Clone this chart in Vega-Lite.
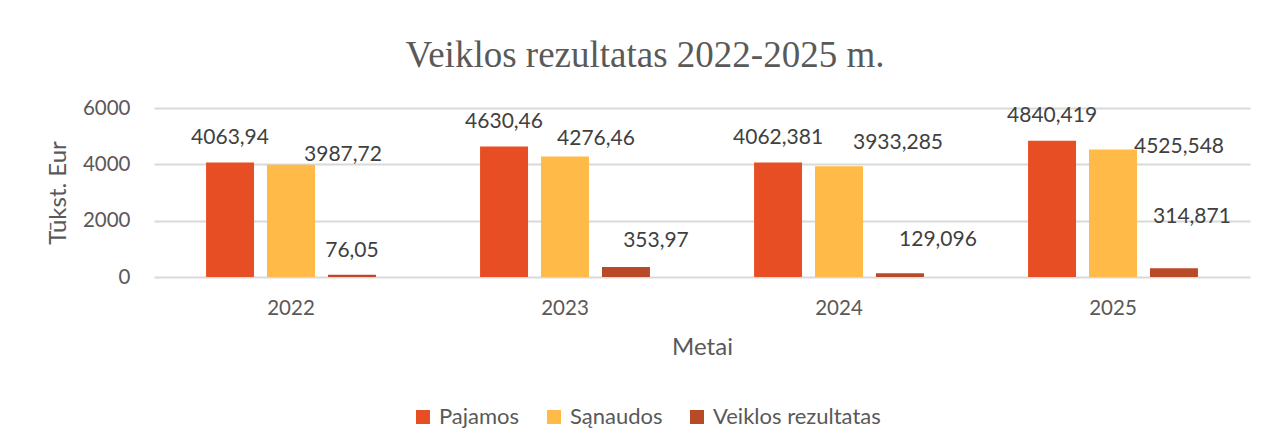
{
  "$schema": "https://vega.github.io/schema/vega-lite/v6.json",
  "autosize": "none",
  "width": 1096,
  "height": 169,
  "padding": {"left": 154, "top": 108, "right": 18, "bottom": 171},
  "background": "white",
  "title": {
    "text": "Veiklos rezultatas 2022-2025 m.",
    "font": "Liberation Serif",
    "fontSize": 37,
    "fontWeight": "normal",
    "color": "#595959",
    "anchor": "middle",
    "frame": "group",
    "dx": -57,
    "offset": 23
  },
  "data": {
    "values": [
      {"year": "2022", "series": "Pajamos", "value": 4063.94, "label": "4063,94"},
      {"year": "2022", "series": "Sąnaudos", "value": 3987.72, "label": "3987,72"},
      {"year": "2022", "series": "Veiklos rezultatas", "value": 76.05, "label": "76,05"},
      {"year": "2023", "series": "Pajamos", "value": 4630.46, "label": "4630,46"},
      {"year": "2023", "series": "Sąnaudos", "value": 4276.46, "label": "4276,46"},
      {"year": "2023", "series": "Veiklos rezultatas", "value": 353.97, "label": "353,97"},
      {"year": "2024", "series": "Pajamos", "value": 4062.381, "label": "4062,381"},
      {"year": "2024", "series": "Sąnaudos", "value": 3933.285, "label": "3933,285"},
      {"year": "2024", "series": "Veiklos rezultatas", "value": 129.096, "label": "129,096"},
      {"year": "2025", "series": "Pajamos", "value": 4840.419, "label": "4840,419"},
      {"year": "2025", "series": "Sąnaudos", "value": 4525.548, "label": "4525,548"},
      {"year": "2025", "series": "Veiklos rezultatas", "value": 314.871, "label": "314,871"}
    ]
  },
  "encoding": {
    "x": {
      "field": "year",
      "type": "nominal",
      "scale": {"paddingInner": 0.38, "paddingOuter": 0.19},
      "axis": {
        "title": "Metai",
        "labelAngle": 0,
        "domain": false,
        "ticks": false,
        "labelPadding": 21,
        "labelFont": "Lato",
        "labelFontSize": 20.5,
        "labelColor": "#595959",
        "titleFont": "Lato",
        "titleFontSize": 24,
        "titleFontWeight": "normal",
        "titleColor": "#595959",
        "titleBaseline": "top",
        "titleY": 58
      }
    },
    "xOffset": {
      "field": "series",
      "type": "nominal",
      "scale": {"domain": ["Pajamos", "Sąnaudos", "Veiklos rezultatas"], "paddingInner": 0.213, "paddingOuter": 0}
    },
    "y": {
      "field": "value",
      "type": "quantitative",
      "scale": {"domain": [0, 6000], "nice": false},
      "axis": {
        "title": "Tūkst. Eur",
        "values": [0, 2000, 4000, 6000],
        "format": "d",
        "domain": false,
        "ticks": false,
        "grid": true,
        "gridColor": "#d9d9d9",
        "gridWidth": 2,
        "labelPadding": 24,
        "labelFont": "Lato",
        "labelFontSize": 20.5,
        "labelColor": "#595959",
        "titleFont": "Lato",
        "titleFontSize": 24,
        "titleFontWeight": "normal",
        "titleColor": "#595959",
        "titleAngle": -90,
        "titleAlign": "center",
        "titleBaseline": "bottom",
        "titleX": -84,
        "titleY": 84.5
      }
    }
  },
  "layer": [
    {
      "mark": {"type": "bar"},
      "encoding": {
        "color": {
          "field": "series",
          "type": "nominal",
          "scale": {
            "domain": ["Pajamos", "Sąnaudos", "Veiklos rezultatas"],
            "range": ["#E84E24", "#FFBA48", "#B84A28"]
          },
          "legend": {
            "title": null,
            "orient": "none",
            "direction": "horizontal",
            "legendX": 258,
            "legendY": 298,
            "padding": 0,
            "symbolType": "square",
            "symbolSize": 196,
            "symbolStrokeWidth": 0,
            "symbolOpacity": 1,
            "labelFont": "Lato",
            "labelFontSize": 22,
            "labelColor": "#595959",
            "labelOffset": 5,
            "labelLimit": 400,
            "columnPadding": 23
          }
        }
      }
    },
    {
      "transform": [{"filter": "datum.series === 'Pajamos'"}],
      "mark": {"type": "text", "dy": -25},
      "encoding": {"text": {"field": "label"}}
    },
    {
      "transform": [{"filter": "datum.series === 'Sąnaudos' && datum.year === '2022'"}],
      "mark": {"type": "text", "dx": 52, "dy": -10},
      "encoding": {"text": {"field": "label"}}
    },
    {
      "transform": [{"filter": "datum.series === 'Sąnaudos' && datum.year === '2023'"}],
      "mark": {"type": "text", "dx": 31, "dy": -18},
      "encoding": {"text": {"field": "label"}}
    },
    {
      "transform": [{"filter": "datum.series === 'Sąnaudos' && datum.year === '2024'"}],
      "mark": {"type": "text", "dx": 59, "dy": -23},
      "encoding": {"text": {"field": "label"}}
    },
    {
      "transform": [{"filter": "datum.series === 'Sąnaudos' && datum.year === '2025'"}],
      "mark": {"type": "text", "dx": 66, "dy": -3},
      "encoding": {"text": {"field": "label"}}
    },
    {
      "transform": [{"filter": "datum.series === 'Veiklos rezultatas' && datum.year === '2022'"}],
      "mark": {"type": "text", "dx": 0, "dy": -24},
      "encoding": {"text": {"field": "label"}}
    },
    {
      "transform": [{"filter": "datum.series === 'Veiklos rezultatas' && datum.year === '2023'"}],
      "mark": {"type": "text", "dx": 30, "dy": -26},
      "encoding": {"text": {"field": "label"}}
    },
    {
      "transform": [{"filter": "datum.series === 'Veiklos rezultatas' && datum.year === '2024'"}],
      "mark": {"type": "text", "dx": 38, "dy": -33},
      "encoding": {"text": {"field": "label"}}
    },
    {
      "transform": [{"filter": "datum.series === 'Veiklos rezultatas' && datum.year === '2025'"}],
      "mark": {"type": "text", "dx": 18, "dy": -51},
      "encoding": {"text": {"field": "label"}}
    }
  ],
  "config": {
    "view": {"stroke": null},
    "text": {"font": "Lato", "fontSize": 21, "color": "#404040", "align": "center", "baseline": "middle"}
  }
}
